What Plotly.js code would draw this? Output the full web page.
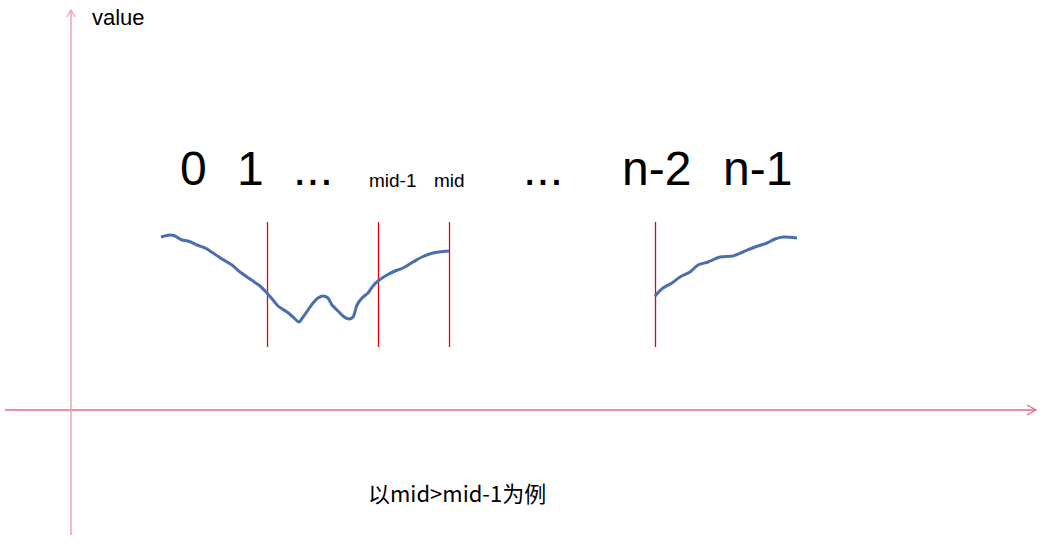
<!DOCTYPE html>
<html>
<head>
<meta charset="utf-8">
<script src="https://cdn.plot.ly/plotly-3.0.1.min.js"></script>
<style>html,body{margin:0;padding:0;background:#fff;}#chart{width:1051px;height:553px;}</style>
</head>
<body>
<div id="chart"></div>
<script>
// Curve segment 1 (index position, value)
const seg1X = [89, 98, 103, 110, 116, 125, 135, 141, 150, 160, 168, 178, 188, 195, 201, 206, 215, 221, 227, 231, 236, 241, 246, 251, 256, 260, 266, 271, 277, 281, 285, 290, 296, 301, 306, 315, 323, 331, 341, 350, 361, 377];
const seg1Y = [173, 175, 174, 170, 169, 165, 161, 157, 151, 145, 138, 131, 124, 117, 110, 104, 98, 93, 88, 93, 100, 107, 112, 114, 112, 105, 99, 94, 91, 93, 105, 112, 117, 124, 129, 135, 139, 142, 148, 153, 157, 159];
// Curve segment 2
const seg2X = [583, 591, 600, 608, 618, 626, 636, 648, 661, 671, 683, 695, 703, 711, 725];
const seg2Y = [114, 122, 127, 133, 138, 145, 148, 153, 154, 158, 163, 167, 171, 173, 172];
// Divider positions
const dividerX = [195.5, 306.5, 377.5, 583.5];
const dividerY = [63, 188];
// Index labels
const labels = ['0', '1', '...', 'mid-1', 'mid', '...', 'n-2', 'n-1'];
const labelX = [121, 178, 241, 321, 377, 471, 584, 685];
const labelBig = [true, true, true, false, false, true, true, true];
// Axis extents
const xAxisExt = [-67, 964];
const yAxisExt = [-125, 400];
const axisTitle = 'value';
const caption = '以mid>mid-1为例';

const curveColor = '#4a6fad';
const traces = [
  {x: seg1X, y: seg1Y, mode: 'lines', line: {color: curveColor, width: 3, shape: 'spline', smoothing: 0.8}, hoverinfo: 'skip'},
  {x: seg2X, y: seg2Y, mode: 'lines', line: {color: curveColor, width: 3, shape: 'spline', smoothing: 0.8}, hoverinfo: 'skip'}
];

const shapes = [];
// x axis
shapes.push({type: 'line', x0: xAxisExt[0], x1: xAxisExt[1], y0: 0, y1: 0, line: {color: '#ec6a82', width: 1.3}});
shapes.push({type: 'path', path: `M ${xAxisExt[1]-9} 5 L ${xAxisExt[1]} 0 L ${xAxisExt[1]-9} -5`, line: {color: '#ec6a82', width: 1.3}});
// y axis
shapes.push({type: 'line', x0: -1, x1: -1, y0: yAxisExt[0], y1: yAxisExt[1], line: {color: '#f4a0b0', width: 1.5}});
shapes.push({type: 'path', path: `M -5 ${yAxisExt[1]-7} L -1 ${yAxisExt[1]} L 3 ${yAxisExt[1]-7}`, line: {color: '#f4a0b0', width: 1.3}});
// dividers
dividerX.forEach(x => shapes.push({type: 'line', x0: x, x1: x, y0: dividerY[0], y1: dividerY[1], line: {color: '#f00000', width: 1.3}, layer: 'below'}));

const annotations = [];
labels.forEach((t, i) => annotations.push({
  x: labelX[i], y: labelBig[i] ? 242 : 230, text: t, showarrow: false,
  xanchor: 'center', yanchor: 'middle',
  font: {family: 'Liberation Sans, Arial, sans-serif', size: labelBig[i] ? 48 : 19, color: '#000'}
}));
annotations.push({x: 18, y: 393, text: axisTitle, showarrow: false, xanchor: 'left', yanchor: 'middle',
  font: {family: 'Liberation Sans, Arial, sans-serif', size: 22, color: '#000'}});
annotations.push({x: 385, y: -82, text: caption, showarrow: false, xanchor: 'center', yanchor: 'middle',
  font: {family: 'Noto Sans CJK SC, sans-serif', size: 22, color: '#000'}});

const layout = {
  width: 1051, height: 553,
  margin: {l: 0, r: 0, t: 0, b: 0, pad: 0},
  paper_bgcolor: '#fff', plot_bgcolor: '#fff',
  showlegend: false,
  xaxis: {range: [-72, 979], visible: false, fixedrange: true},
  yaxis: {range: [-143, 410], visible: false, fixedrange: true},
  shapes: shapes,
  annotations: annotations
};
Plotly.newPlot('chart', traces, layout, {displayModeBar: false, staticPlot: true});
</script>
</body>
</html>
